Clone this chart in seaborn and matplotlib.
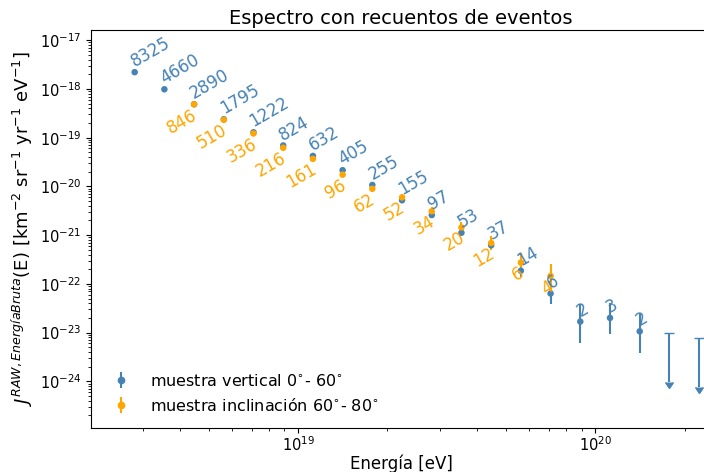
import numpy as np
import pandas as pd
import matplotlib
matplotlib.use("Agg")
import matplotlib.pyplot as plt
from matplotlib.lines import Line2D
from matplotlib.ticker import LogLocator, NullFormatter
import seaborn as sns

# log10(E/eV) bin centres, reconstructed flux and raw event counts
lg_e_vert = [18.45, 18.55, 18.65, 18.75, 18.85, 18.95, 19.05, 19.15, 19.25,
             19.35, 19.45, 19.55, 19.65, 19.75, 19.85, 19.95, 20.05, 20.15]
flux_vert = [2.21e-18, 9.84e-19, 4.85e-19, 2.39e-19, 1.29e-19, 6.92e-20,
             4.22e-20, 2.15e-20, 1.07e-20, 5.19e-21, 2.58e-21, 1.12e-21,
             6.20e-22, 1.86e-22, 6.35e-23, 1.68e-23, 2.00e-23, 1.06e-23]
counts_vert = [8325, 4660, 2890, 1795, 1222, 824, 632, 405, 255,
               155, 97, 53, 37, 14, 6, 2, 3, 2]

lg_e_incl = [18.65, 18.75, 18.85, 18.95, 19.05, 19.15, 19.25,
             19.35, 19.45, 19.55, 19.65, 19.75, 19.85]
flux_incl = [4.85e-19, 2.32e-19, 1.22e-19, 6.20e-20, 3.67e-20, 1.74e-20,
             8.93e-21, 5.95e-21, 3.09e-21, 1.44e-21, 6.88e-22, 2.73e-22,
             1.45e-22]
counts_incl = [846, 510, 336, 216, 161, 96, 62, 52, 34, 20, 12, 6, 4]

# empty bins of the vertical sample: upper limits
lg_e_lim = [20.25, 20.35]
flux_lim = [9.69e-24, 7.69e-24]

label_vert = "muestra vertical 0$^{\\circ}$- 60$^{\\circ}$"
label_incl = "muestra inclinación 60$^{\\circ}$- 80$^{\\circ}$"
c_vert = "#4682b4"
c_incl = "#ffa500"


def poisson_interval(n):
    """Approximate 1-sigma Poisson confidence interval (Gehrels 1986)."""
    n = np.asarray(n, dtype=float)
    upper = n + np.sqrt(n + 0.75) + 1.0
    lower = n * (1.0 - 1.0 / (9.0 * n) - 1.0 / (3.0 * np.sqrt(n))) ** 3
    return lower, upper


def flux_errors(flux, counts):
    flux = np.asarray(flux)
    counts = np.asarray(counts, dtype=float)
    lo, up = poisson_interval(counts)
    return [flux * (1.0 - lo / counts), flux * (up / counts - 1.0)]


e_vert = 10.0 ** np.array(lg_e_vert)
e_incl = 10.0 ** np.array(lg_e_incl)
e_lim = 10.0 ** np.array(lg_e_lim)

df = pd.concat([
    pd.DataFrame({"energia": e_vert, "flujo": flux_vert, "muestra": label_vert}),
    pd.DataFrame({"energia": e_incl, "flujo": flux_incl, "muestra": label_incl}),
], ignore_index=True)

fig = plt.figure(figsize=(7.04, 4.72), dpi=100)
ax = fig.add_axes([91 / 704, 44 / 472, 620 / 704, 398 / 472])

ax.errorbar(e_vert, flux_vert, yerr=flux_errors(flux_vert, counts_vert),
            fmt="none", ecolor=c_vert, elinewidth=1.5, zorder=2)
ax.errorbar(e_incl, flux_incl, yerr=flux_errors(flux_incl, counts_incl),
            fmt="none", ecolor=c_incl, elinewidth=1.5, zorder=2)
ax.errorbar(e_lim, flux_lim, yerr=0.9 * np.array(flux_lim), uplims=True,
            fmt="_", ms=7, color=c_vert, elinewidth=1.5, zorder=2)

sns.scatterplot(data=df, x="energia", y="flujo", hue="muestra",
                palette={label_vert: c_vert, label_incl: c_incl},
                s=22, linewidth=0, legend=False, ax=ax, zorder=3)

for x, y, n in zip(e_vert, flux_vert, counts_vert):
    ax.annotate(str(n), (x, y), xytext=(1.5, 1), textcoords="offset points",
                rotation=30, rotation_mode="anchor", ha="left", va="bottom",
                color=c_vert, fontsize=12)
for x, y, n in zip(e_incl, flux_incl, counts_incl):
    ax.annotate(str(n), (x, y), xytext=(-2, -1), textcoords="offset points",
                rotation=30, rotation_mode="anchor", ha="right", va="top",
                color=c_incl, fontsize=12)

ax.set_xscale("log")
ax.set_yscale("log")
ax.set_xlim(10 ** 18.303, 10 ** 20.39)
ax.set_ylim(1.1e-25, 10 ** -16.79)
ax.yaxis.set_major_locator(LogLocator(base=10, numticks=20))
ax.yaxis.set_minor_locator(LogLocator(base=10, subs=np.arange(2, 10), numticks=20))
ax.yaxis.set_minor_formatter(NullFormatter())
ax.tick_params(labelsize=10.5)
ax.tick_params(axis="x", pad=2)

ax.set_xlabel("Energía [eV]", fontsize=12, labelpad=0)
ax.set_ylabel("$J^{RAW, EnergíaBruta}$(E) [km$^{-2}$ sr$^{-1}$ yr$^{-1}$ eV$^{-1}$]",
              fontsize=13, labelpad=3)
ax.set_title("Espectro con recuentos de eventos", fontsize=14, pad=4)

handles = [
    (Line2D([], [], color=c_vert, marker="|", ms=12, mew=1.5, ls="none"),
     Line2D([], [], color=c_vert, marker="o", ms=4.5, ls="none")),
    (Line2D([], [], color=c_incl, marker="|", ms=12, mew=1.5, ls="none"),
     Line2D([], [], color=c_incl, marker="o", ms=4.5, ls="none")),
]
ax.legend(handles, [label_vert, label_incl], loc="lower left",
          frameon=False, fontsize=11.5)

fig.savefig("out.png", dpi=100)
